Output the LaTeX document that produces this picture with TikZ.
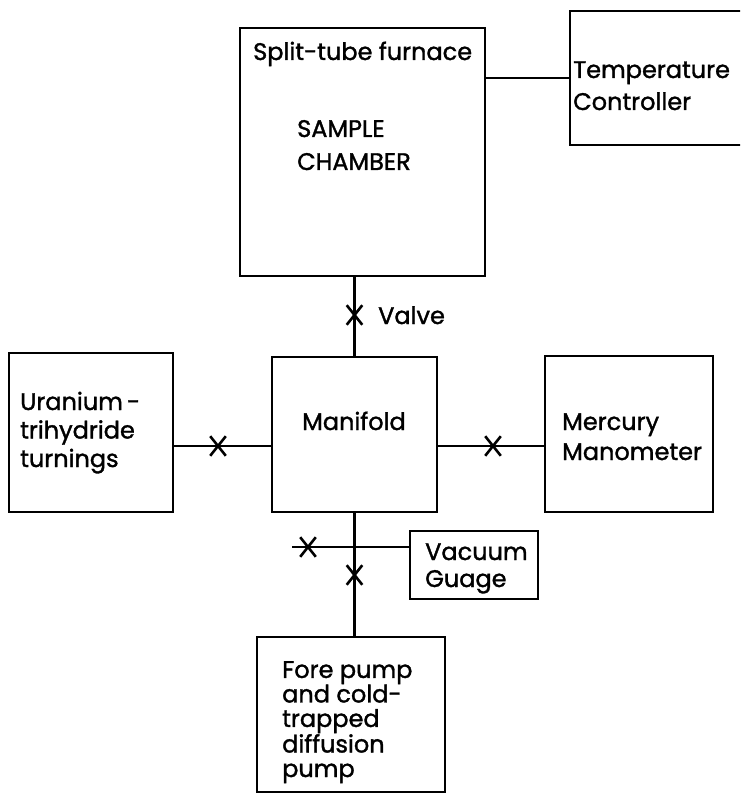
\documentclass[tikz,border=0pt]{standalone}
\usepackage{fontspec}
\setmainfont{Poppins}[FakeBold=1.4]
\usetikzlibrary{shapes.misc}
\begin{document}
\begin{tikzpicture}[x=1pt,y=-1pt,
  box/.style={draw, line width=2.6pt, rectangle, inner sep=0pt},
  lbl/.style={anchor=base west, inner sep=0pt, align=left, font=\fontsize{24}{#1}\selectfont},
  lbl/.default=28,
  pipe/.style={line width=2.6pt},
  valvex/.style={cross out, draw, line width=2.6pt, minimum width=13pt, minimum height=17pt, inner sep=0pt}]
\useasboundingbox (0,0) rectangle (740,794);
\clip (0,0) rectangle (740,794);
% boxes
\node[box, minimum width=245pt, minimum height=248pt] (furnace) at (362.5,152) {};
\node[box, minimum width=175pt, minimum height=134pt] (temp) at (657.5,78) {};
\node[box, minimum width=165pt, minimum height=155pt] (manifold) at (354.5,434.5) {};
\node[box, minimum width=164pt, minimum height=159pt] (uran) at (91,432.5) {};
\node[box, minimum width=168pt, minimum height=156pt] (merc) at (629,434) {};
\node[box, minimum width=128pt, minimum height=68pt] (vac) at (474,565) {};
\node[box, minimum width=188pt, minimum height=155pt] (pump) at (351,714.5) {};
% helper coordinates
\coordinate (hl) at (0,446);
\coordinate (vl) at (292,547);
% connectors
\draw[pipe] (furnace.east |- temp.west) -- (temp.west);
\draw[pipe] (manifold.north |- furnace.south) -- (manifold.north);
\draw[pipe] (uran.east |- hl) -- (manifold.west |- hl);
\draw[pipe] (manifold.east |- hl) -- (merc.west |- hl);
\draw[pipe] (manifold.south) -- (pump.north -| manifold.south);
\draw[pipe] (vl) -- (vac.west |- vl);
% valves
\node[valvex] (v1) at (354.5,315) {};
\node[valvex] (v2) at (218,446) {};
\node[valvex] (v3) at (493,446) {};
\node[valvex] (v4) at (308,547) {};
\node[valvex] (v5) at (354.5,575) {};
% labels (anchor at baseline of last line)
\node[lbl] (tfur) at (253,60) {Split-tube furnace};
\node[lbl=33] (tsam) at (297,170) {SAMPLE\\CHAMBER};
\node[lbl=32] (ttemp) at (573,110) {Temperature\\Controller};
\node[lbl] (tval) at (378,324) {Valve};
\node[lbl=28.5] (turan) at (20,467) {Uranium\,-\\trihydride\\turnings};
\node[lbl] (tman) at (302,430) {Manifold};
\node[lbl=30] (tmerc) at (562,460) {Mercury\\Manometer};
\node[lbl=27] (tvac) at (425,587) {Vacuum\\Guage};
\node[lbl=24.5] (tpump) at (282,777) {Fore pump\\and cold-\\trapped\\diffusion\\pump};
\end{tikzpicture}
\end{document}
